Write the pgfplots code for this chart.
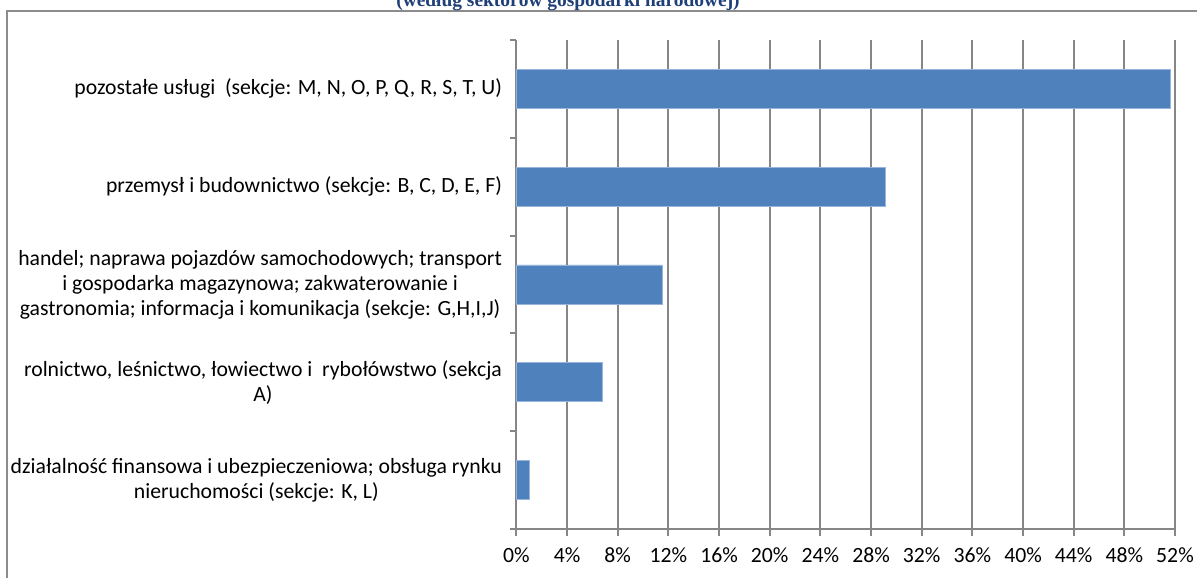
\documentclass[border=0pt]{standalone}
\usepackage{pgfplots}
\pgfplotsset{compat=1.18}
\usepackage{fontspec}
\setmainfont{Carlito}
\newfontfamily\titlefont{Liberation Serif}
\definecolor{barblue}{RGB}{79,129,189}
\definecolor{baredge}{RGB}{150,180,220}
\definecolor{gridgray}{RGB}{134,134,134}
\definecolor{framegray}{RGB}{140,140,140}
\definecolor{titleblue}{RGB}{31,63,120}
\begin{document}
\begin{tikzpicture}
\useasboundingbox (0,0) rectangle (1197bp,578bp);
\draw[line width=2bp, framegray] (7bp,-20bp) -- (7bp,567bp) -- (1220bp,567bp);
\node[font=\titlefont\bfseries\fontsize{19.5}{23}\selectfont, text=titleblue, anchor=base, inner sep=0pt] at (568bp,571bp) {(według sektorów gospodarki narodowej)};
\begin{axis}[
  at={(516.4bp,49bp)}, anchor=south west,
  scale only axis, width=658.6bp, height=489bp,
  xbar, bar width=39bp,
  xmin=0, xmax=52, ymin=-0.5, ymax=4.5,
  xtick={0,4,...,52},
  xticklabel={\pgfmathprintnumber[assume math mode=true]{\tick}\%},
  ytick={0,1,2,3,4},
  yticklabels={
    {działalność finansowa i ubezpieczeniowa; obsługa rynku\\nieruchomości (sekcje: K, L)},
    {rolnictwo, leśnictwo, łowiectwo i\ \ rybołówstwo (sekcja\\A)},
    {handel; naprawa pojazdów samochodowych; transport\\i gospodarka magazynowa; zakwaterowanie i\\gastronomia; informacja i komunikacja (sekcje: G,H,I,J)},
    {przemysł i budownictwo (sekcje: B, C, D, E, F)},
    {pozostałe usługi\ \ (sekcje: M, N, O, P, Q, R, S, T, U)}
  },
  minor ytick={-0.5,0.5,...,4.5},
  ytick style={draw=none},
  minor tick length=6bp,
  minor y tick style={draw=gridgray, line width=2bp},
  axis x line*=bottom, axis y line*=left,
  axis line style={gridgray, line width=2bp},
  tick align=outside,
  major tick length=7bp,
  xtick style={draw=gridgray, line width=2bp},
  xmajorgrids, major grid style={gridgray, line width=2bp},
  tick label style={font=\fontsize{21.8}{25}\selectfont, text=black},
  yticklabel style={align=center, xshift=-4bp},
  xticklabel style={yshift=-8bp},
  clip=false,
]
\addplot[fill=barblue, draw=baredge, line width=0.8bp] coordinates {(1.0,0) (6.8,1) (11.5,2) (29.1,3) (51.6,4)};
\end{axis}
\end{tikzpicture}
\end{document}
